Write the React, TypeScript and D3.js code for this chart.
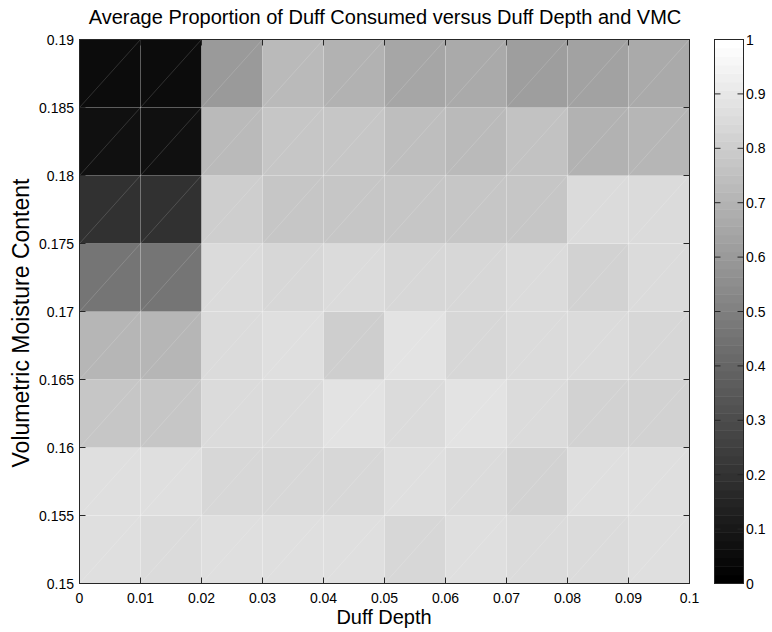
import React from "react";
import * as d3 from "d3";

// Cell edges of the duff-depth (x) and volumetric-moisture-content (y) grid
const duffDepthEdges = [0, 0.01, 0.02, 0.03, 0.04, 0.05, 0.06, 0.07, 0.08, 0.09, 0.1];
const vmcEdges = [0.15, 0.155, 0.16, 0.165, 0.17, 0.175, 0.18, 0.185, 0.19];

// Average proportion of duff consumed, one array per VMC band (lowest band first)
const vmc150 = [0.865, 0.85, 0.865, 0.87, 0.865, 0.84, 0.87, 0.855, 0.855, 0.865];
const vmc155 = [0.865, 0.865, 0.84, 0.84, 0.83, 0.86, 0.855, 0.815, 0.86, 0.86];
const vmc160 = [0.775, 0.78, 0.85, 0.85, 0.88, 0.85, 0.88, 0.855, 0.82, 0.82];
const vmc165 = [0.71, 0.71, 0.855, 0.87, 0.8, 0.88, 0.835, 0.855, 0.855, 0.835];
const vmc170 = [0.455, 0.455, 0.85, 0.84, 0.85, 0.84, 0.84, 0.85, 0.82, 0.85];
const vmc175 = [0.2, 0.2, 0.8, 0.77, 0.78, 0.78, 0.78, 0.78, 0.85, 0.85];
const vmc180 = [0.067, 0.067, 0.73, 0.78, 0.78, 0.74, 0.72, 0.76, 0.69, 0.71];
const vmc185 = [0.05, 0.05, 0.6, 0.72, 0.69, 0.65, 0.66, 0.62, 0.63, 0.66];
const consumedByBand = [vmc150, vmc155, vmc160, vmc165, vmc170, vmc175, vmc180, vmc185];

const xTicks = [0, 0.01, 0.02, 0.03, 0.04, 0.05, 0.06, 0.07, 0.08, 0.09, 0.1];
const yTicks = [0.15, 0.155, 0.16, 0.165, 0.17, 0.175, 0.18, 0.185, 0.19];
const colorTicks = [0, 0.1, 0.2, 0.3, 0.4, 0.5, 0.6, 0.7, 0.8, 0.9, 1];

const W = 772;
const H = 632;
const FONT = "'Liberation Sans', Arial, Helvetica, sans-serif";
const LEVELS = 64;

const plot = { left: 79.5, right: 689.5, top: 39.5, bottom: 583.5 };
const bar = { left: 714.5, right: 743.5 };

const x = d3.scaleLinear().domain([0, 0.1]).range([plot.left, plot.right]);
const y = d3.scaleLinear().domain([0.15, 0.19]).range([plot.bottom, plot.top]);
const cy = d3.scaleLinear().domain([0, 1]).range([plot.bottom, plot.top]);

// 64-step gray colormap
const level = (v: number) => Math.min(LEVELS - 1, Math.max(0, Math.floor(v * LEVELS)));
const grayOf = (i: number) => {
  const g = Math.round((i / (LEVELS - 1)) * 255);
  return d3.rgb(g, g, g).formatHex();
};
const fillFor = (v: number) => grayOf(level(v));

const fmt = (v: number) => String(+v.toFixed(3));

export default function App() {
  const cells: React.ReactNode[] = [];
  const diagonals: React.ReactNode[] = [];
  consumedByBand.forEach((row, j) => {
    row.forEach((v, i) => {
      const x0 = x(duffDepthEdges[i]);
      const x1 = x(duffDepthEdges[i + 1]);
      const y0 = y(vmcEdges[j + 1]);
      const y1 = y(vmcEdges[j]);
      cells.push(
        <rect key={`c${i}-${j}`} x={x0} y={y0} width={x1 - x0 + 0.4} height={y1 - y0 + 0.4} fill={fillFor(v)} />
      );
      diagonals.push(
        <line key={`d${i}-${j}`} x1={x0} y1={y1} x2={x1} y2={y0} stroke="#fff" strokeOpacity={0.22} strokeWidth={0.7} />
      );
    });
  });

  const tickLen = 6;
  const barSteps = d3.range(LEVELS);

  return (
    <svg width={W} height={H} style={{ position: "absolute", left: 0, top: 0, background: "#fff" }}>
      <text x={385} y={24} textAnchor="middle" fontFamily={FONT} fontSize={20} fill="#000">
        Average Proportion of Duff Consumed versus Duff Depth and VMC
      </text>

      {/* heat-map cells */}
      <g>{cells}</g>
      {/* cell edges */}
      <g stroke="#fff" strokeOpacity={0.3} strokeWidth={1}>
        {duffDepthEdges.slice(1, -1).map((d) => (
          <line key={`vx${d}`} x1={x(d)} x2={x(d)} y1={plot.top} y2={plot.bottom} />
        ))}
        {vmcEdges.slice(1, -1).map((d) => (
          <line key={`hy${d}`} x1={plot.left} x2={plot.right} y1={y(d)} y2={y(d)} />
        ))}
      </g>
      <g>{diagonals}</g>

      {/* axes box and inward ticks */}
      <rect x={plot.left} y={plot.top} width={plot.right - plot.left} height={plot.bottom - plot.top} fill="none" stroke="#262626" strokeWidth={1} />
      <g stroke="#262626" strokeWidth={1}>
        {xTicks.map((t) => (
          <g key={`xt${t}`}>
            <line x1={x(t)} x2={x(t)} y1={plot.bottom} y2={plot.bottom - tickLen} />
            <line x1={x(t)} x2={x(t)} y1={plot.top} y2={plot.top + tickLen} />
          </g>
        ))}
        {yTicks.map((t) => (
          <g key={`yt${t}`}>
            <line x1={plot.left} x2={plot.left + tickLen} y1={y(t)} y2={y(t)} />
            <line x1={plot.right} x2={plot.right - tickLen} y1={y(t)} y2={y(t)} />
          </g>
        ))}
      </g>
      <g fontFamily={FONT} fontSize={14} fill="#000">
        {xTicks.map((t) => (
          <text key={`xl${t}`} x={x(t)} y={603} textAnchor="middle">
            {fmt(t)}
          </text>
        ))}
        {yTicks.map((t) => (
          <text key={`yl${t}`} x={74} y={y(t) + 5} textAnchor="end">
            {fmt(t)}
          </text>
        ))}
      </g>

      <text x={384} y={624} textAnchor="middle" fontFamily={FONT} fontSize={20} fill="#000">
        Duff Depth
      </text>
      <text
        transform="translate(29, 323) rotate(-90)"
        textAnchor="middle"
        fontFamily={FONT}
        fontSize={23}
        fill="#000"
      >
        Volumetric Moisture Content
      </text>

      {/* colorbar */}
      <g>
        {barSteps.map((i) => {
          const ya = cy((i + 1) / LEVELS);
          const yb = cy(i / LEVELS);
          return <rect key={`cb${i}`} x={bar.left} y={ya} width={bar.right - bar.left} height={yb - ya + 0.4} fill={grayOf(i)} />;
        })}
      </g>
      <rect x={bar.left} y={plot.top} width={bar.right - bar.left} height={plot.bottom - plot.top} fill="none" stroke="#262626" strokeWidth={1} />
      <g stroke="#262626" strokeWidth={1}>
        {colorTicks.map((t) => (
          <g key={`ct${t}`}>
            <line x1={bar.left} x2={bar.left + tickLen} y1={cy(t)} y2={cy(t)} />
            <line x1={bar.right} x2={bar.right - tickLen} y1={cy(t)} y2={cy(t)} />
          </g>
        ))}
      </g>
      <g fontFamily={FONT} fontSize={14} fill="#000">
        {colorTicks.map((t) => (
          <text key={`cl${t}`} x={746} y={cy(t) + 5}>
            {fmt(t)}
          </text>
        ))}
      </g>
    </svg>
  );
}
